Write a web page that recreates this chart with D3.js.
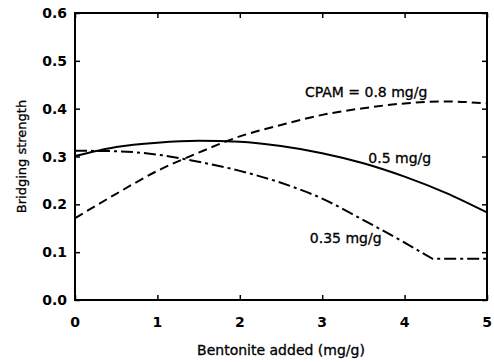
<!DOCTYPE html>
<html>
<head>
<meta charset="utf-8">
<script src="https://cdn.jsdelivr.net/npm/d3@7"></script>
<style>
body{margin:0;background:#fff;}
svg{display:block;}
</style>
</head>
<body>
<div id="chart"></div>
<script>
// data
var bentonite = [0, 0.5, 1, 1.5, 2, 2.5, 3, 3.5, 4, 4.5, 5];
var cpam08 = [0.171, 0.222, 0.270, 0.308, 0.342, 0.366, 0.387, 0.401, 0.411, 0.415, 0.411];
var cpam05 = [0.301, 0.320, 0.329, 0.333, 0.331, 0.322, 0.307, 0.286, 0.258, 0.224, 0.183];
var bentonite035 = [0, 0.5, 1, 1.5, 2, 2.5, 3, 3.5, 4, 4.34, 5];
var cpam035 = [0.312, 0.311, 0.304, 0.289, 0.270, 0.245, 0.212, 0.167, 0.120, 0.086, 0.086];
var xTicks = [0, 1, 2, 3, 4, 5];
var yTicks = [0, 0.1, 0.2, 0.3, 0.4, 0.5, 0.6];

var W = 494, H = 362;
var m = {left: 75, right: 7, top: 13, bottom: 62};
var font = "'DejaVu Sans', sans-serif";

var svg = d3.select('#chart').append('svg')
	.attr('width', W)
	.attr('height', H);

var x = d3.scaleLinear().domain([0, 5]).range([m.left, W - m.right]);
var y = d3.scaleLinear().domain([0, 0.6]).range([H - m.bottom, m.top]);

// ticks, inward on all four sides
function noLabels(ax){ return ax.tickFormat('').tickSizeOuter(0); }
svg.append('g').attr('transform', 'translate(0,' + y(0) + ')')
	.call(noLabels(d3.axisTop(x).tickValues(xTicks).tickSizeInner(5)));
svg.append('g').attr('transform', 'translate(0,' + y(0.6) + ')')
	.call(noLabels(d3.axisBottom(x).tickValues(xTicks).tickSizeInner(5)));
svg.append('g').attr('transform', 'translate(' + x(0) + ',0)')
	.call(noLabels(d3.axisRight(y).tickValues(yTicks).tickSizeInner(5)));
svg.append('g').attr('transform', 'translate(' + x(5) + ',0)')
	.call(noLabels(d3.axisLeft(y).tickValues(yTicks).tickSizeInner(5)));
svg.selectAll('.domain').remove();
svg.selectAll('.tick line').attr('stroke', '#000').attr('stroke-width', 1.5);

// frame
svg.append('rect')
	.attr('x', x(0)).attr('y', y(0.6))
	.attr('width', x(5) - x(0)).attr('height', y(0) - y(0.6))
	.attr('fill', 'none').attr('stroke', '#000').attr('stroke-width', 2);

// tick labels
svg.selectAll('.xlab').data(xTicks).enter().append('text')
	.attr('x', function(d){ return x(d); })
	.attr('y', y(0) + 27)
	.attr('text-anchor', 'middle')
	.attr('font-family', font).attr('font-weight', 'bold').attr('font-size', 14)
	.text(function(d){ return d; });

svg.selectAll('.ylab').data(yTicks).enter().append('text')
	.attr('x', x(0) - 8)
	.attr('y', function(d){ return y(d); })
	.attr('dy', '0.36em')
	.attr('text-anchor', 'end')
	.attr('font-family', font).attr('font-weight', 'bold').attr('font-size', 14)
	.text(function(d){ return d3.format('.1f')(d); });

// axis titles
svg.append('text')
	.attr('x', (x(0) + x(5)) / 2).attr('y', 355)
	.attr('text-anchor', 'middle')
	.attr('font-family', font).attr('font-size', 14)
	.attr('stroke', '#000').attr('stroke-width', 0.3)
	.text('Bentonite added (mg/g)');

svg.append('text')
	.attr('transform', 'translate(26,' + ((y(0) + y(0.6)) / 2) + ') rotate(-90)')
	.attr('text-anchor', 'middle')
	.attr('font-family', font).attr('font-size', 13)
	.attr('stroke', '#000').attr('stroke-width', 0.3)
	.text('Bridging strength');

// curves
var line = d3.line()
	.x(function(d){ return x(d[0]); })
	.y(function(d){ return y(d[1]); })
	.curve(d3.curveMonotoneX);

svg.append('path')
	.datum(d3.zip(bentonite, cpam08))
	.attr('d', line)
	.attr('fill', 'none').attr('stroke', '#000').attr('stroke-width', 2)
	.attr('stroke-dasharray', '9,5');

svg.append('path')
	.datum(d3.zip(bentonite, cpam05))
	.attr('d', line)
	.attr('fill', 'none').attr('stroke', '#000').attr('stroke-width', 2);

// 0.35 curve: smooth part then the flat tail after the kink
var pts035 = d3.zip(bentonite035, cpam035);
var kink = pts035.length - 2;
var path035 = line(pts035.slice(0, kink + 1)) + 'L' + pts035.slice(kink + 1).map(function(d){
	return x(d[0]) + ',' + y(d[1]);
}).join('L');
svg.append('path')
	.attr('d', path035)
	.attr('fill', 'none').attr('stroke', '#000').attr('stroke-width', 2)
	.attr('stroke-dasharray', '12,4,3,4');

// curve labels
function curveLabel(xv, yv, txt){
	svg.append('text')
		.attr('x', x(xv)).attr('y', y(yv))
		.attr('font-family', font).attr('font-size', 14)
		.attr('stroke', '#000').attr('stroke-width', 0.3)
		.text(txt);
}
curveLabel(2.79, 0.424, 'CPAM = 0.8 mg/g');
curveLabel(3.56, 0.286, '0.5 mg/g');
curveLabel(2.85, 0.119, '0.35 mg/g');
</script>
</body>
</html>
